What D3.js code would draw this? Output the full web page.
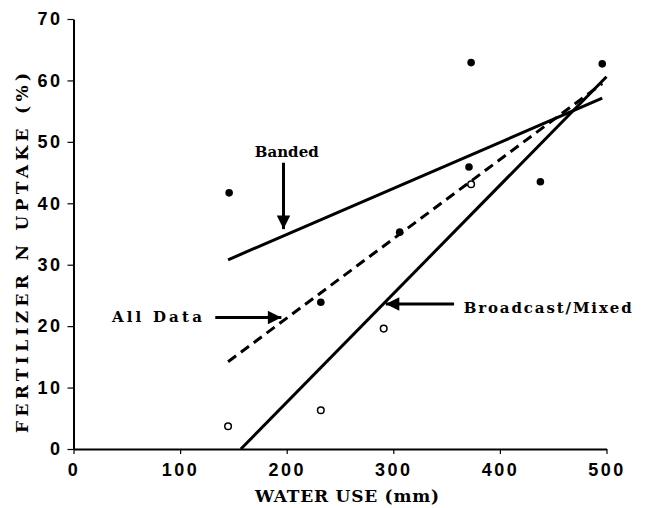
<!DOCTYPE html>
<html>
<head>
<meta charset="utf-8">
<script src="https://cdn.jsdelivr.net/npm/d3@7"></script>
<style>
  body { margin: 0; background: #fff; }
  svg { display: block; }
  .tick text { font-family: "Liberation Sans", Arial, sans-serif; font-weight: bold; font-size: 18px; letter-spacing: 2.5px; fill: #000; }
  .lbl { font-family: "DejaVu Serif", "Liberation Serif", serif; font-weight: bold; fill: #000; }
</style>
</head>
<body>
<div id="chart"></div>
<script>
(function fertilizer() {
let width = 646,
    height = 508;

// banded placement (filled dots)
const bandedX = [146, 232, 306, 371, 373, 438, 496];
const bandedY = [41.7, 23.9, 35.3, 45.9, 62.9, 43.5, 62.7];

// broadcast/mixed placement (open dots)
const broadX = [145, 232, 291, 373];
const broadY = [3.7, 6.3, 19.6, 43.1];

// fitted lines, start and end points
const bandedFit = [[145, 30.8], [496, 57.1]];
const allFit = [[145, 14.2], [496, 59.5]];
const broadFit = [[157, 0], [500, 60.6]];

const xTicks = [0, 100, 200, 300, 400, 500];
const yTicks = [0, 10, 20, 30, 40, 50, 60, 70];

const svg = d3.select("#chart")
    .append("svg")
    .attr("width", width)
    .attr("height", height);

let x = d3.scaleLinear()
    .domain([0, 500])
    .range([73.5, 606.5]);

let y = d3.scaleLinear()
    .domain([0, 70])
    .range([449, 19]);

svg.append("g")
    .attr("transform", `translate(0,${y(0)})`)
    .call(d3.axisBottom(x).tickValues(xTicks).tickSize(5).tickSizeOuter(0).tickPadding(9))
    .call(g => g.select(".domain").attr("stroke-width", 2))
    .call(g => g.selectAll(".tick line").attr("stroke-width", 1.2));

svg.append("g")
    .attr("transform", `translate(${x(0)},0)`)
    .call(d3.axisLeft(y).tickValues(yTicks).tickSize(6).tickSizeOuter(0).tickPadding(5))
    .call(g => g.select(".domain").attr("stroke-width", 2))
    .call(g => g.selectAll(".tick line").attr("stroke-width", 1.2));

let line = d3.line()
    .x(d => x(d[0]))
    .y(d => y(d[1]));

svg.append("path")
    .datum(bandedFit)
    .attr("fill", "none")
    .attr("stroke", "#000")
    .attr("stroke-width", 3)
    .attr("d", line);

svg.append("path")
    .datum(broadFit)
    .attr("fill", "none")
    .attr("stroke", "#000")
    .attr("stroke-width", 3)
    .attr("d", line);

svg.append("path")
    .datum(allFit)
    .attr("fill", "none")
    .attr("stroke", "#000")
    .attr("stroke-width", 3)
    .attr("stroke-dasharray", "10,6")
    .attr("d", line);

svg.selectAll(".filled")
    .data(bandedX.map((d, i) => [d, bandedY[i]]))
    .join("circle")
    .attr("cx", d => x(d[0]))
    .attr("cy", d => y(d[1]))
    .attr("r", 3.8)
    .attr("fill", "#000");

svg.selectAll(".open")
    .data(broadX.map((d, i) => [d, broadY[i]]))
    .join("circle")
    .attr("cx", d => x(d[0]))
    .attr("cy", d => y(d[1]))
    .attr("r", 3.3)
    .attr("fill", "#fff")
    .attr("stroke", "#000")
    .attr("stroke-width", 1.5);

// arrows
svg.append("defs").append("marker")
    .attr("id", "head")
    .attr("viewBox", "0 0 10 10")
    .attr("refX", 10)
    .attr("refY", 5)
    .attr("markerWidth", 5.5)
    .attr("markerHeight", 4.5)
    .attr("markerUnits", "strokeWidth")
    .attr("orient", "auto")
    .append("path")
    .attr("d", "M0,0 L10,5 L0,10 Z")
    .attr("fill", "#000");

let arrows = [
    [[197, 46.6], [197, 35.8]],
    [[133, 21.4], [195, 21.4]],
    [[357, 23.6], [293, 23.6]]
];

for (let a of arrows) {
    svg.append("path")
        .datum(a)
        .attr("fill", "none")
        .attr("stroke", "#000")
        .attr("stroke-width", 3)
        .attr("marker-end", "url(#head)")
        .attr("d", line);
}

svg.append("text").attr("class", "lbl")
    .attr("x", x(200)).attr("y", y(47.5))
    .attr("text-anchor", "middle")
    .attr("font-size", 15)
    .attr("textLength", 64)
    .text("Banded");

svg.append("text").attr("class", "lbl")
    .attr("x", x(36)).attr("y", y(20.6))
    .attr("font-size", 15)
    .attr("textLength", 90)
    .text("All Data");

svg.append("text").attr("class", "lbl")
    .attr("x", x(366)).attr("y", y(22.1))
    .attr("font-size", 15)
    .attr("textLength", 168)
    .text("Broadcast/Mixed");

svg.append("text").attr("class", "lbl")
    .attr("x", 347).attr("y", 502)
    .attr("text-anchor", "middle")
    .attr("font-size", 17)
    .attr("textLength", 184)
    .text("WATER USE (mm)");

svg.append("text").attr("class", "lbl")
    .attr("transform", "translate(28,253) rotate(-90)")
    .attr("text-anchor", "middle")
    .attr("font-size", 17)
    .attr("textLength", 360)
    .text("FERTILIZER N UPTAKE (%)");
})();
</script>
</body>
</html>
